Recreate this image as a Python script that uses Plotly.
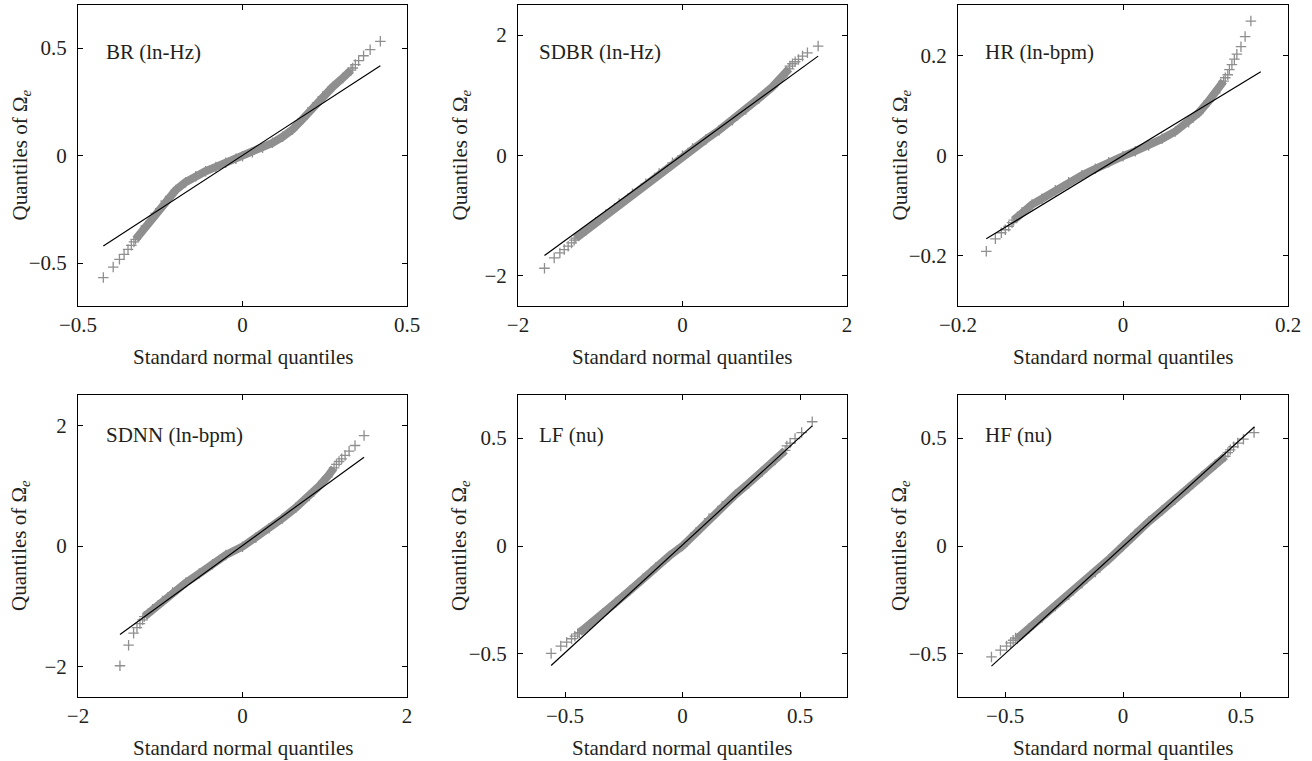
import plotly.graph_objects as go

# ---------------- data ----------------
panel_labels = ["BR (ln-Hz)", "SDBR (ln-Hz)", "HR (ln-bpm)",
                "SDNN (ln-bpm)", "LF (nu)", "HF (nu)"]

x_title = "Standard normal quantiles"
y_title = "Quantiles of Ω<sub><i>e</i></sub>"

# BR (ln-Hz)
br_core_x = [-0.325, -0.294, -0.264, -0.234, -0.203, -0.173, -0.142, -0.112, -0.081, -0.051, -0.020, 0.0,
             0.030, 0.061, 0.091, 0.122, 0.152, 0.183, 0.213, 0.244, 0.274, 0.305, 0.330]
br_core_y = [-0.390, -0.328, -0.269, -0.212, -0.161, -0.124, -0.096, -0.073, -0.053, -0.034, -0.015, -0.003,
             0.015, 0.036, 0.059, 0.087, 0.121, 0.170, 0.223, 0.274, 0.319, 0.361, 0.397]
br_tail_x = [-0.423, -0.393, -0.374, -0.360, -0.348, -0.338, -0.330, 0.335, 0.343, 0.353, 0.368, 0.388, 0.419]
br_tail_y = [-0.568, -0.519, -0.483, -0.460, -0.437, -0.418, -0.402, 0.407, 0.423, 0.441, 0.464, 0.492, 0.531]
br_ref_x = [-0.423, 0.419]
br_ref_y = [-0.421, 0.418]

# SDBR (ln-Hz)
sdbr_core_x = [-1.297, -1.175, -1.053, -0.932, -0.770, -0.608, -0.446, -0.284, -0.122, 0.0,
               0.122, 0.284, 0.446, 0.608, 0.770, 0.932, 1.094, 1.216, 1.297]
sdbr_core_y = [-1.374, -1.247, -1.108, -0.981, -0.798, -0.637, -0.471, -0.299, -0.122, -0.006,
               0.116, 0.266, 0.421, 0.587, 0.765, 0.953, 1.141, 1.307, 1.440]
sdbr_tail_x = [-1.678, -1.560, -1.491, -1.438, -1.390, -1.349, -1.317, 1.305, 1.337, 1.370, 1.410, 1.459, 1.519, 1.649]
sdbr_tail_y = [-1.873, -1.701, -1.618, -1.562, -1.507, -1.452, -1.407, 1.485, 1.524, 1.557, 1.596, 1.651, 1.706, 1.817]
sdbr_ref_x = [-1.678, 1.649]
sdbr_ref_y = [-1.662, 1.651]

# HR (ln-bpm)
hr_core_x = [-0.1325, -0.1224, -0.1103, -0.0982, -0.0820, -0.0659, -0.0497, -0.0335, -0.0174, 0.0,
             0.0149, 0.0311, 0.0473, 0.0634, 0.0796, 0.0917, 0.1038, 0.1119, 0.1220]
hr_core_y = [-0.1289, -0.1130, -0.0977, -0.0864, -0.0691, -0.0532, -0.0392, -0.0266, -0.0133, -0.0013,
             0.0086, 0.0199, 0.0332, 0.0478, 0.0664, 0.0850, 0.1083, 0.1249, 0.1482]
hr_tail_x = [-0.1657, -0.1547, -0.1475, -0.1426, -0.1386, -0.1345,
             0.124, 0.127, 0.129, 0.132, 0.135, 0.138, 0.143, 0.148, 0.155]
hr_tail_y = [-0.191, -0.166, -0.154, -0.148, -0.141, -0.134,
             0.155, 0.161, 0.171, 0.181, 0.192, 0.202, 0.217, 0.237, 0.268]
hr_ref_x = [-0.1657, 0.167]
hr_ref_y = [-0.166, 0.1668]

# SDNN (ln-bpm)
sdnn_core_x = [-1.194, -1.093, -0.972, -0.850, -0.688, -0.526, -0.364, -0.202, 0.0,
               0.162, 0.324, 0.486, 0.648, 0.810, 0.931, 1.032, 1.113]
sdnn_core_y = [-1.168, -1.047, -0.909, -0.771, -0.606, -0.457, -0.303, -0.149, -0.011,
               0.138, 0.292, 0.457, 0.634, 0.826, 0.992, 1.146, 1.295]
sdnn_tail_x = [-1.490, -1.385, -1.324, -1.283, -1.247, -1.215, 1.142, 1.174, 1.206, 1.247, 1.296, 1.368, 1.478]
sdnn_tail_y = [-1.983, -1.642, -1.444, -1.350, -1.284, -1.223, 1.350, 1.399, 1.444, 1.499, 1.570, 1.664, 1.829]
sdnn_ref_x = [-1.490, 1.478]
sdnn_ref_y = [-1.466, 1.471]

# LF (nu)
lf_core_x = [-0.439, -0.394, -0.338, -0.282, -0.225, -0.169, -0.113, -0.056, 0.0,
             0.056, 0.113, 0.169, 0.225, 0.282, 0.338, 0.394, 0.437]
lf_core_y = [-0.402, -0.364, -0.313, -0.260, -0.207, -0.152, -0.098, -0.046, 0.0,
             0.062, 0.127, 0.184, 0.238, 0.291, 0.344, 0.399, 0.443]
lf_tail_x = [-0.559, -0.518, -0.493, -0.472, -0.458, -0.446, 0.444, 0.458, 0.479, 0.507, 0.552]
lf_tail_y = [-0.498, -0.464, -0.446, -0.430, -0.418, -0.407, 0.464, 0.477, 0.498, 0.526, 0.576]
lf_ref_x = [-0.559, 0.552]
lf_ref_y = [-0.554, 0.557]

# HF (nu)
hf_core_x = [-0.449, -0.400, -0.343, -0.287, -0.230, -0.174, -0.117, -0.061, 0.0,
             0.052, 0.109, 0.165, 0.222, 0.278, 0.335, 0.391, 0.434]
hf_core_y = [-0.429, -0.384, -0.331, -0.278, -0.226, -0.173, -0.121, -0.063, 0.0,
             0.056, 0.113, 0.164, 0.217, 0.269, 0.323, 0.378, 0.416]
hf_tail_x = [-0.558, -0.520, -0.494, -0.477, -0.466, -0.456, 0.445, 0.455, 0.469, 0.487, 0.511, 0.556]
hf_tail_y = [-0.514, -0.483, -0.464, -0.449, -0.437, -0.426, 0.433, 0.446, 0.460, 0.477, 0.495, 0.526]
hf_ref_x = [-0.558, 0.558]
hf_ref_y = [-0.557, 0.553]

# axis ranges and ticks
x_ranges = [[-0.5, 0.5], [-2, 2], [-0.2, 0.2], [-2, 2], [-0.7, 0.7], [-0.7, 0.7]]
y_ranges = [[-0.7, 0.7], [-2.5, 2.5], [-0.3, 0.3], [-2.5, 2.5], [-0.7, 0.7], [-0.7, 0.7]]
x_tickvals = [[-0.5, 0, 0.5], [-2, 0, 2], [-0.2, 0, 0.2], [-2, 0, 2], [-0.5, 0, 0.5], [-0.5, 0, 0.5]]
x_ticktext = [["−0.5", "0", "0.5"], ["−2", "0", "2"], ["−0.2", "0", "0.2"],
              ["−2", "0", "2"], ["−0.5", "0", "0.5"], ["−0.5", "0", "0.5"]]
y_tickvals = [[-0.5, 0, 0.5], [-2, 0, 2], [-0.2, 0, 0.2], [-2, 0, 2], [-0.5, 0, 0.5], [-0.5, 0, 0.5]]
y_ticktext = [["−0.5", "0", "0.5"], ["−2", "0", "2"], ["−0.2", "0", "0.2"],
              ["−2", "0", "2"], ["−0.5", "0", "0.5"], ["−0.5", "0", "0.5"]]

panels = [
    (br_core_x, br_core_y, br_tail_x, br_tail_y, br_ref_x, br_ref_y),
    (sdbr_core_x, sdbr_core_y, sdbr_tail_x, sdbr_tail_y, sdbr_ref_x, sdbr_ref_y),
    (hr_core_x, hr_core_y, hr_tail_x, hr_tail_y, hr_ref_x, hr_ref_y),
    (sdnn_core_x, sdnn_core_y, sdnn_tail_x, sdnn_tail_y, sdnn_ref_x, sdnn_ref_y),
    (lf_core_x, lf_core_y, lf_tail_x, lf_tail_y, lf_ref_x, lf_ref_y),
    (hf_core_x, hf_core_y, hf_tail_x, hf_tail_y, hf_ref_x, hf_ref_y),
]

label_pos = [(0.080, 0.844), (0.058, 0.844), (0.077, 0.844),
             (0.080, 0.868), (0.058, 0.868), (0.077, 0.868)]

# ---------------- layout geometry ----------------
W, H = 1312, 761
cols = [(78, 407), (518, 847), (958, 1288)]
rows = [(5, 306), (395, 697)]

FONT = "Liberation Serif"
FS = 21
TXT = "#231f20"
GRAY = "#8f8f8f"

fig = go.Figure()
layout = dict(
    width=W, height=H, autosize=False,
    margin=dict(l=0, r=0, t=0, b=0, pad=0),
    paper_bgcolor="white", plot_bgcolor="white",
    showlegend=False,
    font=dict(family=FONT, size=FS, color=TXT),
)
annotations = []

for i, (cx, cy, tx, ty, rx, ry) in enumerate(panels):
    r, c = divmod(i, 3)
    n = "" if i == 0 else str(i + 1)
    xa, ya = "x" + n, "y" + n
    x0, x1 = cols[c]
    y0, y1 = rows[r]

    # dense band of overlapping markers
    fig.add_trace(go.Scatter(x=cx, y=cy, xaxis=xa, yaxis=ya, mode="lines",
                             line=dict(color=GRAY, width=8), hoverinfo="skip"))
    fig.add_trace(go.Scatter(x=tx + cx, y=ty + cy, xaxis=xa, yaxis=ya, mode="markers",
                             marker=dict(symbol="cross-thin-open", size=7.5, color=GRAY,
                                         line=dict(color=GRAY, width=1.3))))
    # reference line
    fig.add_trace(go.Scatter(x=rx, y=ry, xaxis=xa, yaxis=ya, mode="lines",
                             line=dict(color="black", width=1.2)))

    common = dict(showline=True, linecolor="black", linewidth=1, mirror="ticks",
                  ticks="inside", ticklen=5, tickwidth=1, tickcolor="black",
                  showgrid=False, zeroline=False, tickmode="array", automargin=False,
                  tickfont=dict(family=FONT, size=FS, color=TXT), fixedrange=True)
    layout["xaxis" + n] = dict(common, domain=[x0 / W, x1 / W], anchor=ya,
                               range=x_ranges[i], tickvals=x_tickvals[i], ticktext=x_ticktext[i],
                               ticklabelstandoff=0)
    layout["yaxis" + n] = dict(common, domain=[1 - y1 / H, 1 - y0 / H], anchor=xa,
                               range=y_ranges[i], tickvals=y_tickvals[i], ticktext=y_ticktext[i],
                               ticklabelstandoff=6)

    lx, ly = label_pos[i]
    annotations.append(dict(text=panel_labels[i], xref=xa + " domain", yref=ya + " domain",
                            x=lx, y=ly, xanchor="left", yanchor="middle", showarrow=False,
                            font=dict(family=FONT, size=FS, color=TXT)))
    # axis titles
    annotations.append(dict(text=x_title, xref="paper", yref="paper",
                            x=(x0 + x1) / 2 / W, y=1 - (y1 + 51) / H,
                            xanchor="center", yanchor="middle", showarrow=False,
                            font=dict(family=FONT, size=FS, color=TXT)))
    annotations.append(dict(text=y_title, xref="paper", yref="paper",
                            x=(x0 - 58) / W, y=1 - (y0 + y1) / 2 / H, textangle=-90,
                            xanchor="center", yanchor="middle", showarrow=False,
                            font=dict(family=FONT, size=FS, color=TXT)))

layout["annotations"] = annotations
fig.update_layout(**layout)
fig.write_html("out.html", config={"displayModeBar": False},
               post_script="document.body.style.margin='0';document.body.style.overflow='hidden';")
